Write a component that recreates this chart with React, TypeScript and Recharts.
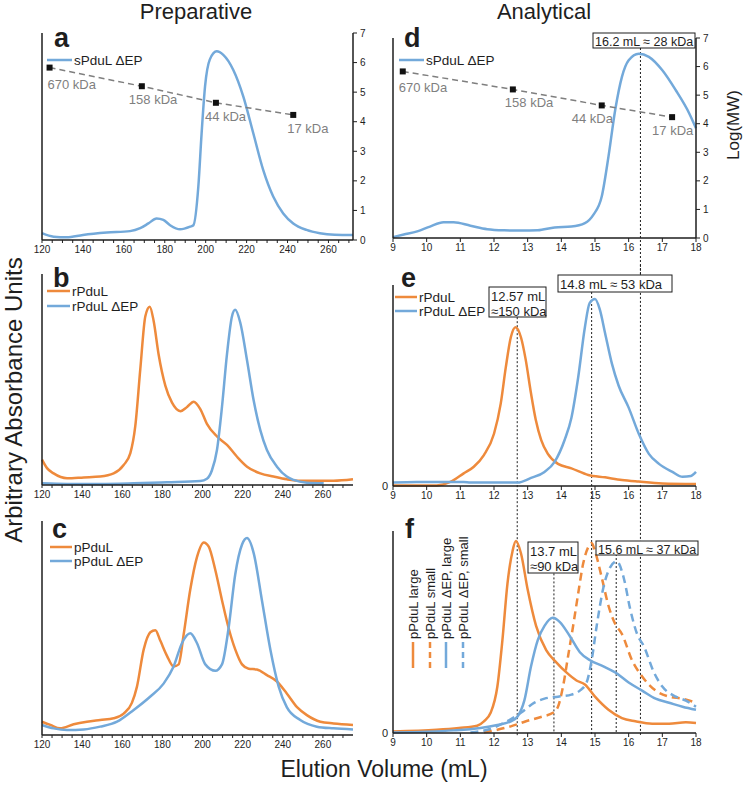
import React from "react";
import { LineChart, Line, XAxis, YAxis, ReferenceLine, LabelList } from "recharts";

// ---- data ----
// panel a: preparative, sPduL dEP
const prepA_x = [120, 125.7, 132, 140, 151.7, 163, 168, 172, 176, 179.3, 182.6, 187.5, 192.4, 194, 196.4, 198, 199.7, 202, 205.4, 208.6, 213.5, 218.4, 223.3, 228.1, 233, 237.9, 242.8, 249.3, 255.8, 263, 272];
const prepA_sPduLdEP = [0.23, 0.11, 0.09, 0.17, 0.25, 0.3, 0.4, 0.56, 0.73, 0.68, 0.5, 0.36, 0.45, 0.5, 1.8, 3.6, 5.2, 6.1, 6.38, 6.26, 5.75, 4.85, 3.6, 2.37, 1.47, 0.9, 0.56, 0.34, 0.23, 0.18, 0.17];

// size standards (log MW, right axis)
const stdLabels = ["670 kDa", "158 kDa", "44 kDa", "17 kDa"];
const stdLogMW = [5.83, 5.2, 4.64, 4.23];
const stdPrepX = [123.7, 168.8, 205, 242.8];
const stdAnalX = [9.29, 12.56, 15.2, 17.29];

// panel b: rPduL / rPduL dEP
const prepB_rX = [120, 122.5, 125.8, 132.5, 140.8, 149, 155.7, 160.7, 164, 166.5, 169, 171.5, 173.7, 175.6, 178.1, 181.5, 184.8, 189, 192.3, 195.6, 198.9, 202.2, 207.2, 212.2, 217.2, 222.2, 228.8, 235.4, 242, 248.7, 265.3, 275];
const prepB_rPduL = [0.12, 0.08, 0.055, 0.032, 0.036, 0.04, 0.055, 0.095, 0.15, 0.28, 0.55, 0.8, 0.845, 0.78, 0.62, 0.47, 0.39, 0.35, 0.37, 0.395, 0.36, 0.29, 0.23, 0.19, 0.134, 0.087, 0.055, 0.04, 0.027, 0.02, 0.02, 0.027];
const prepB_dX = [120, 132.5, 149, 165.7, 182.3, 198.9, 202.2, 204.7, 207.2, 209.7, 212.2, 214.7, 216.3, 218.8, 222.2, 225.5, 228.8, 232.1, 237.1, 242, 245.4, 252, 260.4];
const prepB_rPduLdEP = [0.008, 0.005, 0.005, 0.008, 0.013, 0.019, 0.03, 0.07, 0.166, 0.37, 0.62, 0.8, 0.83, 0.77, 0.59, 0.4, 0.26, 0.166, 0.087, 0.04, 0.024, 0.011, 0.008];

// panel c: pPduL / pPduL dEP
const prepC_pX = [120, 124.2, 129, 135.8, 142.4, 149, 155.7, 160.7, 164.8, 167.3, 170.7, 174, 176.5, 179, 182.3, 185.6, 188.1, 190.6, 193.9, 197.2, 200.6, 203.1, 206.4, 209.7, 213, 216.3, 219.7, 223, 227.1, 232.1, 237.1, 242, 247.1, 252, 258.7, 265.3, 275];
const prepC_pPduL = [0.062, 0.047, 0.031, 0.05, 0.062, 0.07, 0.078, 0.1, 0.15, 0.225, 0.4, 0.48, 0.49, 0.44, 0.37, 0.32, 0.33, 0.47, 0.68, 0.83, 0.9, 0.88, 0.77, 0.63, 0.5, 0.4, 0.33, 0.31, 0.306, 0.28, 0.25, 0.194, 0.13, 0.093, 0.062, 0.054, 0.047];
const prepC_dX = [120, 125.8, 132.5, 140.8, 149, 157.4, 165.7, 174, 180.6, 185.6, 189.8, 193.9, 197.2, 201.4, 206.4, 209.7, 213, 216.3, 219.7, 222.2, 225.5, 229.6, 233.8, 238, 242, 248.7, 257, 265.3, 275];
const prepC_pPduLdEP = [0.047, 0.031, 0.023, 0.026, 0.039, 0.062, 0.117, 0.18, 0.24, 0.32, 0.43, 0.475, 0.43, 0.33, 0.3, 0.33, 0.5, 0.75, 0.89, 0.92, 0.85, 0.63, 0.4, 0.225, 0.13, 0.07, 0.039, 0.031, 0.026];

// panel d: analytical, sPduL dEP
const analD_x = [9.0, 9.32, 9.72, 10.1, 10.5, 10.8, 11.3, 11.8, 12.3, 12.8, 13.3, 13.8, 14.3, 14.7, 14.95, 15.2, 15.4, 15.6, 15.8, 16.0, 16.3, 16.6, 17.0, 17.4, 17.8, 18.0];
const analD_sPduLdEP = [0.03, 0.12, 0.23, 0.4, 0.55, 0.55, 0.43, 0.31, 0.27, 0.26, 0.27, 0.37, 0.4, 0.52, 0.81, 1.45, 2.85, 4.48, 5.64, 6.22, 6.45, 6.34, 5.87, 5.17, 4.36, 3.84];

// panel e
const analE_rX = [9, 10.3, 10.7, 11.1, 11.4, 11.7, 12.0, 12.2, 12.35, 12.5, 12.64, 12.8, 12.94, 13.1, 13.24, 13.4, 13.6, 13.9, 14.3, 14.8, 15.3, 15.8, 16.3, 17.0, 18];
const analE_rPduL = [0.003, 0.003, 0.02, 0.063, 0.096, 0.154, 0.26, 0.41, 0.59, 0.74, 0.79, 0.74, 0.63, 0.46, 0.33, 0.23, 0.16, 0.11, 0.088, 0.055, 0.043, 0.03, 0.022, 0.013, 0.01];
const analE_dX = [9, 9.7, 11.1, 11.3, 12.7, 13.1, 13.5, 13.8, 14.1, 14.3, 14.5, 14.7, 14.84, 15.0, 15.14, 15.3, 15.5, 15.7, 16.0, 16.3, 16.6, 16.9, 17.3, 17.6, 17.85, 18];
const analE_rPduLdEP = [0.017, 0.02, 0.02, 0.017, 0.017, 0.04, 0.07, 0.12, 0.23, 0.34, 0.54, 0.79, 0.91, 0.93, 0.88, 0.76, 0.61, 0.5, 0.39, 0.26, 0.16, 0.11, 0.07, 0.046, 0.05, 0.07];

// panel f
const analF_lgX = [9, 10.3, 10.96, 11.5, 11.7, 11.9, 12.1, 12.25, 12.4, 12.55, 12.65, 12.8, 13.0, 13.25, 13.55, 13.85, 14.15, 14.45, 14.7, 15.0, 15.4, 15.8, 16.2, 16.7, 17.2, 17.7, 18];
const analF_pLarge = [0.008, 0.016, 0.025, 0.036, 0.058, 0.1, 0.23, 0.46, 0.74, 0.9, 0.95, 0.89, 0.71, 0.53, 0.41, 0.35, 0.3, 0.26, 0.24, 0.18, 0.115, 0.074, 0.058, 0.046, 0.046, 0.053, 0.05];
const analF_smX = [11.7, 12.1, 12.5, 12.95, 13.45, 13.75, 13.9, 14.05, 14.2, 14.35, 14.5, 14.65, 14.8, 14.9, 15.0, 15.2, 15.4, 15.6, 15.8, 16.1, 16.4, 16.8, 17.2, 17.6, 18];
const analF_pSmall = [0.003, 0.016, 0.033, 0.058, 0.082, 0.1, 0.13, 0.23, 0.38, 0.53, 0.69, 0.84, 0.92, 0.94, 0.9, 0.77, 0.63, 0.54, 0.49, 0.36, 0.28, 0.21, 0.18, 0.17, 0.15];
const analF_dlX = [9, 10.8, 11.6, 12.1, 12.5, 12.7, 12.9, 13.1, 13.3, 13.5, 13.75, 13.95, 14.25, 14.55, 14.85, 15.25, 15.6, 16.0, 16.4, 16.8, 17.2, 17.6, 18];
const analF_dLarge = [0.003, 0.013, 0.025, 0.04, 0.058, 0.082, 0.16, 0.33, 0.46, 0.53, 0.57, 0.55, 0.48, 0.4, 0.36, 0.33, 0.3, 0.25, 0.21, 0.17, 0.15, 0.13, 0.115];
const analF_dsX = [11.3, 11.8, 12.3, 12.8, 13.2, 13.5, 13.9, 14.3, 14.55, 14.75, 14.9, 15.05, 15.25, 15.45, 15.65, 15.85, 16.05, 16.25, 16.45, 16.75, 17.0, 17.4, 17.7, 18];
const analF_dSmall = [0.003, 0.016, 0.05, 0.1, 0.15, 0.17, 0.18, 0.19, 0.21, 0.25, 0.36, 0.53, 0.72, 0.82, 0.85, 0.77, 0.61, 0.49, 0.43, 0.3, 0.23, 0.18, 0.16, 0.13];

// peak positions marked with dotted lines (mL)
const peakD = 16.35;
const peaksE = [12.69, 14.9];
const peaksF = [13.78, 15.63];

const prepTicks = [120, 125, 130, 135, 140, 145, 150, 155, 160, 165, 170, 175, 180, 185, 190, 195, 200, 205, 210, 215, 220, 225, 230, 235, 240, 245, 250, 255, 260, 265, 270];
const analTicks = [9, 10, 11, 12, 13, 14, 15, 16, 17, 18];
const logTicks = [0, 1, 2, 3, 4, 5, 6, 7];

// ---- styles ----
const FONT = "'Liberation Sans', Arial, sans-serif";
const ORANGE = "#ee8a3c";
const BLUE = "#73a9da";
const GREY = "#7f7f7f";
const INK = "#1e1e1e";

// horizontal nudges of the kDa labels, per standard, so they sit like the original
const prepLabelDx = [-2, -13, -11, -6];
const analLabelDx = [-4, -8, -30, -20];

const zip = (xs: number[], ys: number[]) => xs.map((x, i) => ({ x, y: ys[i] }));
const stdPrep = stdPrepX.map((x, i) => ({ x, y: stdLogMW[i], label: stdLabels[i] }));
const stdAnal = stdAnalX.map((x, i) => ({ x, y: stdLogMW[i], label: stdLabels[i] }));

const axisLine = { stroke: INK, strokeWidth: 1.5 };
const tickStyle = { fontSize: 10, fill: INK, fontFamily: FONT };
const prepFmt = (v: number) => (v % 20 === 0 && v <= 260 ? String(v) : "");

const SquareDot = (p: any) => (
  <rect key={"sq" + p.index} x={p.cx - 3} y={p.cy - 3} width={6} height={6} fill="#111" />
);
const stdLabel = (dx: number[]) => (p: any) => (
  <text x={p.x + dx[p.index]} y={p.y + (p.index === 0 ? 21 : 18)} fill={GREY} fontSize={13} fontFamily={FONT}>
    {p.value}
  </text>
);

const curve = (data: any[], color: string, yAxisId: string, dashed = false) => (
  <Line
    yAxisId={yAxisId}
    data={data}
    dataKey="y"
    type="monotone"
    stroke={color}
    strokeWidth={2.5}
    strokeDasharray={dashed ? "8 5" : undefined}
    dot={false}
    isAnimationActive={false}
  />
);

const standards = (data: any[], dx: number[]) => (
  <Line
    yAxisId="r"
    data={data}
    dataKey="y"
    type="linear"
    stroke={GREY}
    strokeWidth={1.5}
    strokeDasharray="6 4"
    dot={SquareDot}
    isAnimationActive={false}
  >
    <LabelList dataKey="label" content={stdLabel(dx)} />
  </Line>
);

const dotted = (x: number, y1: number, y2: number, yAxisId: string) => (
  <ReferenceLine
    key={"v" + x}
    yAxisId={yAxisId}
    segment={[{ x, y: y1 }, { x, y: y2 }]}
    ifOverflow="visible"
    stroke={INK}
    strokeWidth={1}
    strokeDasharray="2 2"
  />
);

const prepXAxis = (end: number) => (
  <XAxis
    type="number"
    dataKey="x"
    domain={[120, end]}
    ticks={prepTicks}
    tickFormatter={prepFmt}
    interval={0}
    tickSize={3}
    tickMargin={3}
    height={20}
    axisLine={axisLine}
    tickLine={{ stroke: INK }}
    tick={tickStyle}
  />
);
const analXAxis = (
  <XAxis
    type="number"
    dataKey="x"
    domain={[9, 18]}
    ticks={analTicks}
    interval={0}
    tickSize={4}
    tickMargin={2}
    height={20}
    axisLine={axisLine}
    tickLine={{ stroke: INK }}
    tick={tickStyle}
  />
);
const plainLeftAxis = (
  <YAxis yAxisId="l" domain={[0, 1]} width={1} tick={false} tickLine={false} axisLine={axisLine} />
);
const zeroLeftAxis = (
  <YAxis yAxisId="l" domain={[0, 1]} ticks={[0]} width={14} tickSize={0} tickMargin={5} axisLine={axisLine} tick={{ ...tickStyle, fontSize: 11 }} />
);
const logRightAxis = (
  <YAxis
    yAxisId="r"
    orientation="right"
    domain={[0, 7]}
    ticks={logTicks}
    interval={0}
    width={22}
    tickSize={4}
    tickMargin={3}
    axisLine={axisLine}
    tickLine={{ stroke: INK }}
    tick={tickStyle}
  />
);

const box = (x: number, y: number, w: number, h: number, lines: string[], fs: number) => (
  <g key={lines[0]}>
    <rect x={x} y={y} width={w} height={h} fill="#fff" stroke={INK} strokeWidth={1} />
    {lines.map((t, i) => (
      <text key={t} x={x + 2} y={y + fs + 0.5 + i * 15} fontSize={fs} fill={INK} fontFamily={FONT}>
        {t}
      </text>
    ))}
  </g>
);

const legendRow = (x: number, y: number, color: string, label: string, len = 23) => (
  <g key={label + y}>
    <line x1={x} x2={x + len} y1={y} y2={y} stroke={color} strokeWidth={2.5} />
    <text x={x + len + 2} y={y + 4.5} fontSize={13.5} fill={INK} fontFamily={FONT}>
      {label}
    </text>
  </g>
);

const vLegend = (x: number, color: string, dashed: boolean, label: string) => (
  <g key={label}>
    <line x1={x} x2={x} y1={642} y2={668} stroke={color} strokeWidth={2.5} strokeDasharray={dashed ? "6 4" : undefined} />
    <text transform={`translate(${x + 5},639) rotate(-90)`} fontSize={13} fill={INK} fontFamily={FONT}>
      {label}
    </text>
  </g>
);

const at = (left: number, top: number, node: React.ReactNode) => (
  <div style={{ position: "absolute", left, top }}>{node}</div>
);

export default function App() {
  return (
    <div style={{ position: "absolute", left: 0, top: 0, width: 745, height: 786, background: "#fff", fontFamily: FONT }}>
      <style>{`.recharts-surface{overflow:visible}`}</style>

      {at(0, 0,
        <LineChart width={380} height={265} margin={{ top: 33, right: 5, bottom: 5, left: 41 }}>
          {prepXAxis(272)}
          {plainLeftAxis}
          {logRightAxis}
          {curve(zip(prepA_x, prepA_sPduLdEP), BLUE, "r")}
          {standards(stdPrep, prepLabelDx)}
        </LineChart>
      )}

      {at(0, 250,
        <LineChart width={380} height={255} margin={{ top: 24, right: 27, bottom: 0, left: 41 }}>
          {prepXAxis(275)}
          {plainLeftAxis}
          {curve(zip(prepB_rX, prepB_rPduL), ORANGE, "l")}
          {curve(zip(prepB_dX, prepB_rPduLdEP), BLUE, "l")}
        </LineChart>
      )}

      {at(0, 500,
        <LineChart width={380} height={255} margin={{ top: 21, right: 27, bottom: 0, left: 41 }}>
          {prepXAxis(275)}
          {plainLeftAxis}
          {curve(zip(prepC_pX, prepC_pPduL), ORANGE, "l")}
          {curve(zip(prepC_dX, prepC_pPduLdEP), BLUE, "l")}
        </LineChart>
      )}

      {at(370, 0,
        <LineChart width={375} height={265} margin={{ top: 38, right: 27, bottom: 7, left: 22 }}>
          {analXAxis}
          {plainLeftAxis}
          {logRightAxis}
          {dotted(peakD, 6.65, -1.7, "r")}
          {curve(zip(analD_x, analD_sPduLdEP), BLUE, "r")}
          {standards(stdAnal, analLabelDx)}
        </LineChart>
      )}

      {at(370, 250,
        <LineChart width={375} height={256} margin={{ top: 35, right: 49, bottom: 0, left: 9 }}>
          {analXAxis}
          {zeroLeftAxis}
          {dotted(peaksE[0], 0.84, -1.24, "l")}
          {dotted(peaksE[1], 0.965, -1.24, "l")}
          {dotted(peakD, 1.1, -1.24, "l")}
          {curve(zip(analE_rX, analE_rPduL), ORANGE, "l")}
          {curve(zip(analE_dX, analE_rPduLdEP), BLUE, "l")}
        </LineChart>
      )}

      {at(370, 500,
        <LineChart width={375} height={253} margin={{ top: 31, right: 49, bottom: 0, left: 9 }}>
          {analXAxis}
          {zeroLeftAxis}
          {dotted(peaksF[0], 0.79, 0, "l")}
          {dotted(peaksF[1], 0.886, 0, "l")}
          {curve(zip(analF_lgX, analF_pLarge), ORANGE, "l")}
          {curve(zip(analF_smX, analF_pSmall), ORANGE, "l", true)}
          {curve(zip(analF_dlX, analF_dLarge), BLUE, "l")}
          {curve(zip(analF_dsX, analF_dSmall), BLUE, "l", true)}
        </LineChart>
      )}

      <svg width={745} height={786} style={{ position: "absolute", left: 0, top: 0, pointerEvents: "none" }}>
        <g fontFamily={FONT} fill={INK}>
          <text x={196} y={19} fontSize={22} textAnchor="middle">Preparative</text>
          <text x={544} y={19} fontSize={22} textAnchor="middle">Analytical</text>
          <text transform="translate(22,400) rotate(-90)" fontSize={24} textAnchor="middle">Arbitrary Absorbance Units</text>
          <text x={384} y={777} fontSize={23} textAnchor="middle">Elution Volume (mL)</text>
          <text transform="translate(739,125) rotate(-90)" fontSize={17} textAnchor="middle">Log(MW)</text>
          <text x={54} y={47} fontSize={27} fontWeight="bold">a</text>
          <text x={53} y={287} fontSize={27} fontWeight="bold">b</text>
          <text x={52} y={538} fontSize={27} fontWeight="bold">c</text>
          <text x={404} y={47} fontSize={27} fontWeight="bold">d</text>
          <text x={401} y={287} fontSize={27} fontWeight="bold">e</text>
          <text x={405} y={538} fontSize={27} fontWeight="bold">f</text>
        </g>

        {legendRow(47, 60, BLUE, "sPduL ΔEP", 25)}
        {legendRow(399, 60, BLUE, "sPduL ΔEP", 25)}
        {legendRow(47, 291, ORANGE, "rPduL")}
        {legendRow(47, 306, BLUE, "rPduL ΔEP")}
        {legendRow(395, 297, ORANGE, "rPduL", 22)}
        {legendRow(395, 311, BLUE, "rPduL ΔEP", 22)}
        {legendRow(50, 547, ORANGE, "pPduL", 22)}
        {legendRow(50, 561, BLUE, "pPduL ΔEP", 22)}

        {vLegend(413, ORANGE, false, "pPduL large")}
        {vLegend(430, ORANGE, true, "pPduL small")}
        {vLegend(446, BLUE, false, "pPduL ΔEP, large")}
        {vLegend(463, BLUE, true, "pPduL ΔEP, small")}

        {box(593, 33, 102, 15, ["16.2 mL ≈ 28 kDa"], 12.5)}
        {box(489, 287, 57, 30, ["12.57 mL", "≈150 kDa"], 13)}
        {box(558, 275, 114, 17, ["14.8 mL ≈ 53 kDa"], 13)}
        {box(528, 542, 50, 31, ["13.7 mL", "≈90 kDa"], 13)}
        {box(596, 541, 102, 14, ["15.6 mL ≈ 37 kDa"], 12.5)}
      </svg>
    </div>
  );
}
